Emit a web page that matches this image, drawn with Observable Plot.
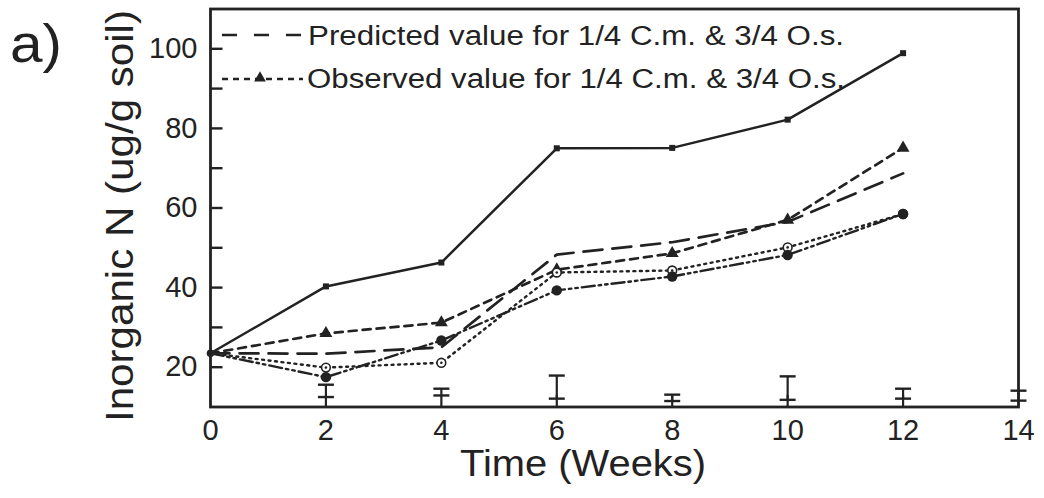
<!DOCTYPE html>
<html><head><meta charset="utf-8">
<script src="https://cdn.jsdelivr.net/npm/d3@7"></script>
<script src="https://cdn.jsdelivr.net/npm/@observablehq/plot@0.6"></script>
<style>
body{margin:0;background:#fff;}
#chart svg{font-family:"Liberation Sans",Arial,Helvetica,sans-serif;}
</style>
</head><body><div id="chart"></div>
<script>
// ---- data ----
const weeks = [0, 2, 4, 6, 8, 10, 12];
const solidSquares      = [23.5, 40.3, 46.3, 75.0, 75.1, 82.2, 98.9];
const observedTriangles = [23.5, 28.5, 31.2, 44.5, 48.6, 57.0, 75.1];
const predicted         = [23.5, 23.4, 25.0, 48.3, 51.4, 56.5, 68.7];
const dottedOpen        = [23.5, 19.9, 21.1, 43.8, 44.3, 50.1, 58.5];
const dashDotFilled     = [23.5, 17.5, 26.7, 39.3, 42.8, 48.2, 58.5];

const errWeeks = [2, 4, 6, 8, 10, 12, 14];
const errLow   = [12.5, 12.9, 12.1, 11.5, 11.8, 12.1, 11.6];
const errHigh  = [15.6, 14.6, 17.9, 13.1, 17.7, 14.6, 14.1];

const xTicks = [0, 2, 4, 6, 8, 10, 12, 14];
const yTicks = [20, 40, 60, 80, 100];
const yMinorTicks = [30, 50, 70, 90];

const legendLabels = [
  "Predicted value for 1/4 C.m. & 3/4 O.s.",
  "Observed value for 1/4 C.m. & 3/4 O.s."
];
const xTitle = "Time (Weeks)";
const yTitle = "Inorganic N (ug/g soil)";
const panelLabel = "a)";

// ---- build tables ----
const series = (arr) => weeks.map((w, i) => ({week: w, value: arr[i]}));
const errs = errWeeks.map((w, i) => ({week: w, lo: errLow[i], hi: errHigh[i]}));
const ink = "#222";

// custom symbols
const tickRight = {draw(ctx) { ctx.moveTo(0, 0); ctx.lineTo(12, 0); }};
const tickUp = {draw(ctx) { ctx.moveTo(0, 0); ctx.lineTo(0, -12); }};
const capSym = {draw(ctx) { ctx.moveTo(-8, 0); ctx.lineTo(8, 0); }};

const chart = Plot.plot({
  width: 1044,
  height: 498,
  marginLeft: 210,
  marginRight: 26,
  marginTop: 8.5,
  marginBottom: 91.5,
  style: {fontSize: "29px", color: ink, background: "#fff"},
  x: {domain: [0, 14]},
  y: {domain: [10, 110]},
  marks: [
    Plot.axisX({ticks: xTicks, tickSize: 0, tickPadding: 12, fontSize: 29, label: null, tickFormat: d3.format("d")}),
    Plot.axisY({ticks: yTicks, tickSize: 0, tickPadding: 13, fontSize: 29, label: null, tickFormat: d3.format("d")}),
    // inward ticks
    Plot.dot(yTicks.concat(yMinorTicks), {y: d => d, frameAnchor: "left", symbol: tickRight, stroke: ink, strokeWidth: 2.4, fill: "none"}),
    Plot.dot(xTicks.slice(1, -1), {x: d => d, frameAnchor: "bottom", symbol: tickUp, stroke: ink, strokeWidth: 2.2, fill: "none"}),
    // error bars
    Plot.ruleX(errs, {x: "week", y1: "lo", y2: "hi", stroke: ink, strokeWidth: 2.2}),
    Plot.dot(errs, {x: "week", y: "lo", symbol: capSym, stroke: ink, strokeWidth: 2.4, fill: "none"}),
    Plot.dot(errs, {x: "week", y: "hi", symbol: capSym, stroke: ink, strokeWidth: 2.4, fill: "none"}),
    // lines
    Plot.line(series(solidSquares), {x: "week", y: "value", stroke: ink, strokeWidth: 2.5}),
    Plot.line(series(predicted), {x: "week", y: "value", stroke: ink, strokeWidth: 2.7, strokeDasharray: "19,10"}),
    Plot.line(series(observedTriangles), {x: "week", y: "value", stroke: ink, strokeWidth: 2.7, strokeDasharray: "8,6"}),
    Plot.line(series(dottedOpen), {x: "week", y: "value", stroke: ink, strokeWidth: 2.4, strokeDasharray: "2,4.5"}),
    Plot.line(series(dashDotFilled), {x: "week", y: "value", stroke: ink, strokeWidth: 2.4, strokeDasharray: "13,4,2.5,4,2.5,4"}),
    // markers
    Plot.dot(series(solidSquares).slice(1), {x: "week", y: "value", symbol: "square", r: 3.4, fill: ink}),
    Plot.dot(series(observedTriangles).slice(1), {x: "week", y: "value", symbol: "triangle", r: 4.8, fill: ink}),
    Plot.dot(series(dottedOpen).slice(1), {x: "week", y: "value", symbol: "circle", r: 4.4, fill: "#fff", stroke: ink, strokeWidth: 1.6}),
    Plot.dot(series(dottedOpen).slice(1), {x: "week", y: "value", r: 1.3, fill: ink}),
    Plot.dot(series(dashDotFilled).slice(1), {x: "week", y: "value", r: 5.2, fill: ink}),
    Plot.dot(series(solidSquares).slice(0, 1), {x: "week", y: "value", r: 3.8, fill: ink}),
    Plot.frame({stroke: ink, strokeWidth: 2.8})
  ]
});
document.getElementById("chart").appendChild(chart);

// ---- titles and legend ----
const svg = d3.select(chart);
const font = '"Liberation Sans",Arial,Helvetica,sans-serif';
function addText(txt, x, y, size, len) {
  const t = svg.append("text")
    .attr("x", x).attr("y", y)
    .attr("text-anchor", "start")
    .attr("fill", ink)
    .style("font-family", font)
    .style("font-size", size + "px")
    .text(txt);
  if (len) t.attr("textLength", len).attr("lengthAdjust", "spacingAndGlyphs");
  return t;
}
addText(panelLabel, 10, 62, 54, 52);
addText(xTitle, 460, 476, 36, 246);
svg.append("text")
  .attr("transform", "translate(133,216) rotate(-90)")
  .attr("text-anchor", "middle")
  .attr("fill", ink)
  .style("font-family", font)
  .style("font-size", "38px")
  .attr("textLength", 412).attr("lengthAdjust", "spacingAndGlyphs")
  .text(yTitle);

// legend row 1: long dash
svg.append("line").attr("x1", 222).attr("x2", 305).attr("y1", 35).attr("y2", 35)
  .attr("stroke", ink).attr("stroke-width", 2.4).attr("stroke-dasharray", "15,17");
addText(legendLabels[0], 308, 45, 27, 536);
// legend row 2: short dash + triangle
svg.append("line").attr("x1", 222).attr("x2", 303).attr("y1", 79).attr("y2", 79)
  .attr("stroke", ink).attr("stroke-width", 2.4).attr("stroke-dasharray", "6,5");
svg.append("path").attr("d", d3.symbol(d3.symbolTriangle, 60)()).attr("transform", "translate(260,78)").attr("fill", ink);
addText(legendLabels[1], 307, 88, 27, 538);
</script>
</body></html>
